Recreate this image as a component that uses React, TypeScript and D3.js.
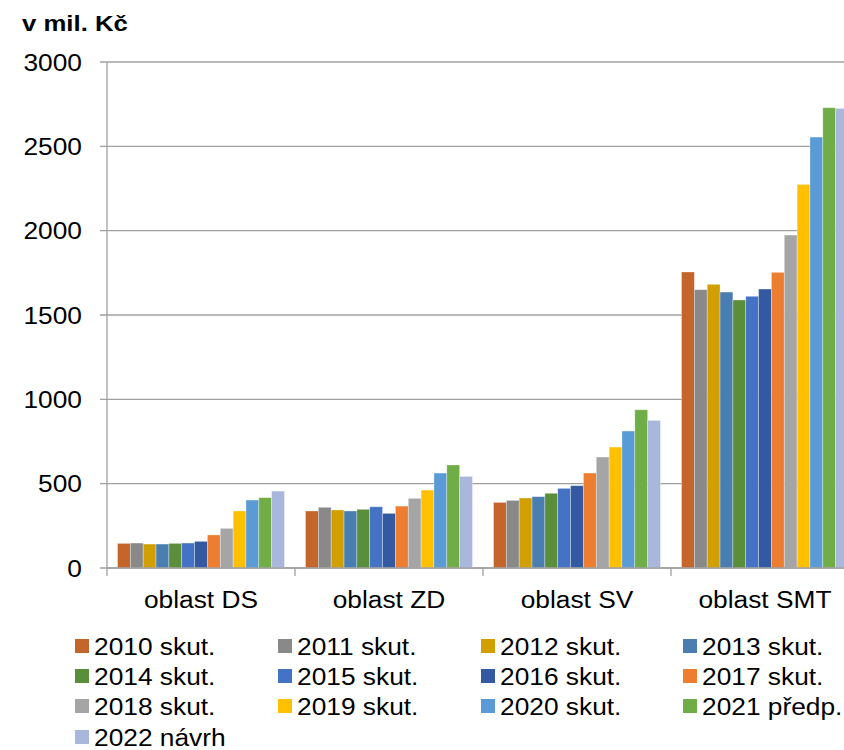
import React, { useEffect } from "react";
import * as d3 from "d3";

const categories = ["oblast DS", "oblast ZD", "oblast SV", "oblast SMT"];
const seriesNames = [
  "2010 skut.", "2011 skut.", "2012 skut.", "2013 skut.", "2014 skut.", "2015 skut.",
  "2016 skut.", "2017 skut.", "2018 skut.", "2019 skut.", "2020 skut.", "2021 předp.", "2022 návrh",
];
const colors = [
  "#C4652B", "#898989", "#D19F00", "#4A7EB0", "#5A8E3A", "#4472C4",
  "#335AA0", "#ED7D31", "#A5A5A5", "#FFC000", "#5B9BD5", "#70AD47", "#A9B7DC",
];
// values[series][category]
const values = [
  [146, 338, 389, 1755],
  [148, 360, 401, 1650],
  [142, 344, 415, 1682],
  [142, 338, 423, 1636],
  [146, 348, 443, 1589],
  [148, 363, 472, 1611],
  [158, 324, 488, 1654],
  [196, 367, 563, 1753],
  [235, 413, 658, 1974],
  [338, 462, 717, 2274],
  [403, 563, 812, 2555],
  [417, 611, 938, 2729],
  [456, 543, 875, 2725],
];
const yTicks = [0, 500, 1000, 1500, 2000, 2500, 3000];
const title = "v mil. Kč";

const W = 844;
const H = 750;
const FONT = "'Liberation Sans', Arial, sans-serif";
const SX = 1.12;

export default function App() {
  useEffect(() => {
    document.body.style.margin = "0";
  }, []);

  const left = 107;
  const catW = 188;
  const x = d3.scaleBand<string>().domain(categories).range([left, left + catW * categories.length]);
  const xs = d3
    .scaleBand<number>()
    .domain(seriesNames.map((_, i) => i))
    .range([10.5, catW - 10.5]);
  const y = d3.scaleLinear().domain([0, 3000]).range([568, 62]);

  const legendCols = [75, 278, 481, 683];
  const legendRows = [646, 676, 706, 737];

  const txt = (s: string, tx: number, ty: number, anchor: string, size: number, bold = false, key?: any) => (
    <text
      key={key}
      transform={`translate(${tx},${ty}) scale(${SX},1)`}
      textAnchor={anchor}
      fontSize={size}
      fontWeight={bold ? "bold" : "normal"}
      fontFamily={FONT}
      fill="#000"
    >
      {s}
    </text>
  );

  return (
    <svg width={W} height={H} style={{ display: "block" }}>
      <rect width={W} height={H} fill="#fff" />
      {txt(title, 22, 31, "start", 23, true)}
      {/* gridlines */}
      {yTicks.map((t) => (
        <line key={t} x1={100} x2={W} y1={y(t)} y2={y(t)} stroke="#A0A0A0" strokeWidth={1.3} />
      ))}
      {yTicks.map((t, i) => txt(String(t), 82, y(t) + 8.5, "end", 23.5, false, "yl" + i))}
      {/* bars */}
      {categories.map((c, ci) => (
        <g key={c} transform={`translate(${x(c)},0)`}>
          {seriesNames.map((s, si) => (
            <rect
              key={s}
              x={xs(si)}
              width={xs.bandwidth()}
              y={y(values[si][ci])}
              height={y(0) - y(values[si][ci])}
              fill={colors[si]}
              stroke="#fff"
              strokeOpacity={0.45}
              strokeWidth={0.7}
            />
          ))}
        </g>
      ))}
      {/* axes */}
      <line x1={left} x2={left} y1={62} y2={576} stroke="#A0A0A0" strokeWidth={1.3} />
      <line x1={left} x2={W} y1={568} y2={568} stroke="#A0A0A0" strokeWidth={1.3} />
      {categories.map((c, ci) => (
        <line key={"t" + ci} x1={x(c)! + catW} x2={x(c)! + catW} y1={568} y2={576} stroke="#A0A0A0" strokeWidth={1.3} />
      ))}
      {categories.map((c, ci) => txt(c, x(c)! + catW / 2, 608, "middle", 23.5, false, "xl" + ci))}
      {/* legend */}
      {seriesNames.map((s, i) => {
        const cx = legendCols[i % 4];
        const cy = legendRows[Math.floor(i / 4)];
        return (
          <g key={"lg" + i}>
            <rect x={cx} y={cy - 7} width={14} height={14} fill={colors[i]} />
            {txt(s, cx + 19, cy + 8.5, "start", 23.5, false)}
          </g>
        );
      })}
    </svg>
  );
}
